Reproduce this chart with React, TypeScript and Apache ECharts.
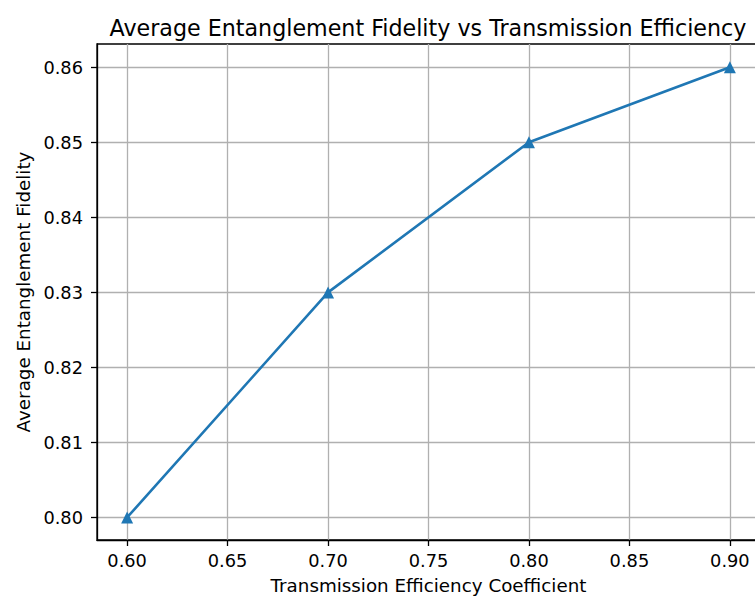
import React, { useEffect, useRef } from "react";
import * as echarts from "echarts";

const efficiency = [0.6, 0.7, 0.8, 0.9];
const fidelity = [0.8, 0.83, 0.85, 0.86];
const xTicks = [0.6, 0.65, 0.7, 0.75, 0.8, 0.85, 0.9];
const yTicks = [0.8, 0.81, 0.82, 0.83, 0.84, 0.85, 0.86];

const FONT = "DejaVu Sans";

export default function App() {
  const ref = useRef<HTMLDivElement>(null);
  useEffect(() => {
    document.body.style.margin = "0";
    const chart = echarts.init(ref.current!, null, { renderer: "svg" });
    chart.setOption({
      animation: false,
      backgroundColor: "#ffffff",
      title: {
        text: "Average Entanglement Fidelity vs Transmission Efficiency",
        left: 423,
        textAlign: "center",
        top: 12,
        textStyle: { fontFamily: FONT, fontSize: 22.2, fontWeight: "normal", color: "#000" },
      },
      grid: {
        left: 97,
        top: 44,
        width: 663,
        height: 496,
        containLabel: false,
        outerBoundsMode: "none",
        show: true,
        borderColor: "#000",
        borderWidth: 1.3,
        backgroundColor: "transparent",
      },
      xAxis: {
        type: "value",
        min: 0.585,
        max: 0.915,
        name: "Transmission Efficiency Coefficient",
        nameLocation: "middle",
        nameGap: 36,
        nameTextStyle: { fontFamily: FONT, fontSize: 18.3, color: "#000" },
        axisLine: { show: true, lineStyle: { color: "#000", width: 1.3 } },
        axisTick: { show: true, inside: false, length: 6, customValues: xTicks, lineStyle: { color: "#000", width: 1.3 } },
        axisLabel: {
          customValues: xTicks,
          margin: 11,
          fontFamily: FONT,
          fontSize: 17.8,
          color: "#000",
          formatter: (v: number) => v.toFixed(2),
        },
        splitLine: { show: true, lineStyle: { color: "#b0b0b0", width: 1.3 } },
      },
      yAxis: {
        type: "value",
        min: 0.797,
        max: 0.8631,
        name: "Average Entanglement Fidelity",
        nameLocation: "middle",
        nameGap: 62,
        nameTextStyle: { fontFamily: FONT, fontSize: 18.3, color: "#000" },
        axisLine: { show: true, lineStyle: { color: "#000", width: 1.3 } },
        axisTick: { show: true, inside: false, length: 6, customValues: yTicks, lineStyle: { color: "#000", width: 1.3 } },
        axisLabel: {
          customValues: yTicks,
          margin: 14,
          fontFamily: FONT,
          fontSize: 17.8,
          color: "#000",
          formatter: (v: number) => v.toFixed(2),
        },
        splitLine: { show: true, lineStyle: { color: "#b0b0b0", width: 1.3 } },
      },
      series: [
        {
          type: "line",
          data: efficiency.map((x, i) => [x, fidelity[i]]),
          symbol: "triangle",
          symbolSize: 12,
          showAllSymbol: true,
          lineStyle: { color: "#1f77b4", width: 2.6 },
          itemStyle: { color: "#1f77b4" },
          clip: false,
        },
      ],
    });
    return () => chart.dispose();
  }, []);
  return <div ref={ref} style={{ width: 755, height: 597, position: "absolute", left: 0, top: 0 }} />;
}
